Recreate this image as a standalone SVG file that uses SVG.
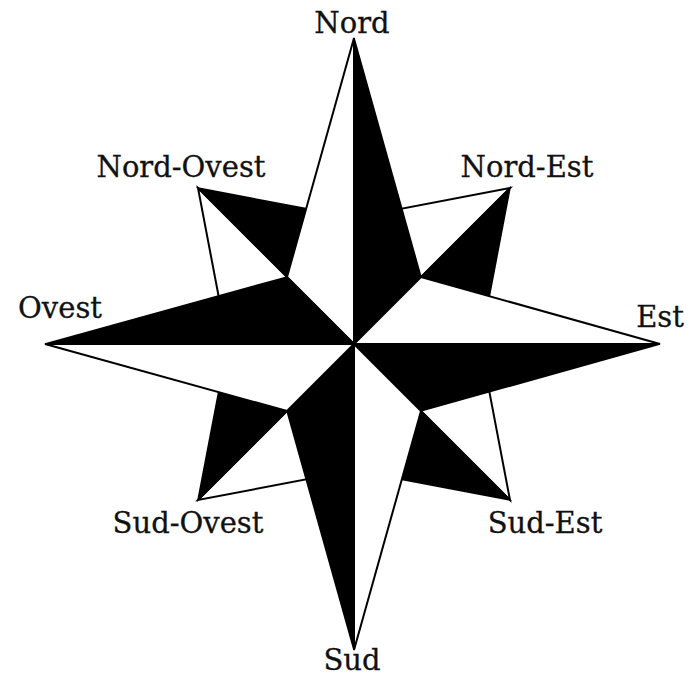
<svg xmlns="http://www.w3.org/2000/svg" width="691" height="678" viewBox="0 0 691 678">
<style>
.b{fill:#000;stroke:#000;stroke-width:1.5;stroke-linejoin:miter}
.w{fill:#fff;stroke:#000;stroke-width:2;stroke-linejoin:miter}
text{font-family:"DejaVu Serif",serif;font-size:29px;fill:#111;stroke:#111;stroke-width:0.3;text-anchor:middle}
</style>
<rect width="691" height="678" fill="#fff"/>
<g id="secondary">
<g id="arm-ne"><polygon class="w" points="510,188 384,212 354,344"/><polygon class="b" points="510,188 354,344 486,314"/></g>
<g id="arm-se"><polygon class="w" points="510,500 354,344 486,374"/><polygon class="b" points="510,500 384,476 354,344"/></g>
<g id="arm-sw"><polygon class="w" points="198,500 354,344 324,476"/><polygon class="b" points="198,500 222,374 354,344"/></g>
<g id="arm-nw"><polygon class="w" points="198,188 354,344 222,314"/><polygon class="b" points="198,188 324,212 354,344"/></g>
</g>
<g id="main">
<g id="arm-n"><polygon class="w" points="354,38 354,344 287,277"/><polygon class="b" points="354,38 421,277 354,344"/></g>
<g id="arm-e"><polygon class="w" points="660,344 354,344 421,277"/><polygon class="b" points="660,344 421,411 354,344"/></g>
<g id="arm-s"><polygon class="w" points="354,650 354,344 421,411"/><polygon class="b" points="354,650 287,411 354,344"/></g>
<g id="arm-w"><polygon class="w" points="45,344 354,344 287,411"/><polygon class="b" points="45,344 287,277 354,344"/></g>
</g>
<g id="labels">
<text id="l-n" x="352" y="33">Nord</text>
<text id="l-ne" x="527" y="177">Nord-Est</text>
<text id="l-e" x="660" y="327">Est</text>
<text id="l-se" x="545" y="533">Sud-Est</text>
<text id="l-s" x="352" y="670">Sud</text>
<text id="l-sw" x="188" y="533">Sud-Ovest</text>
<text id="l-w" x="60" y="318">Ovest</text>
<text id="l-nw" x="181" y="177">Nord-Ovest</text>
</g>
</svg>
